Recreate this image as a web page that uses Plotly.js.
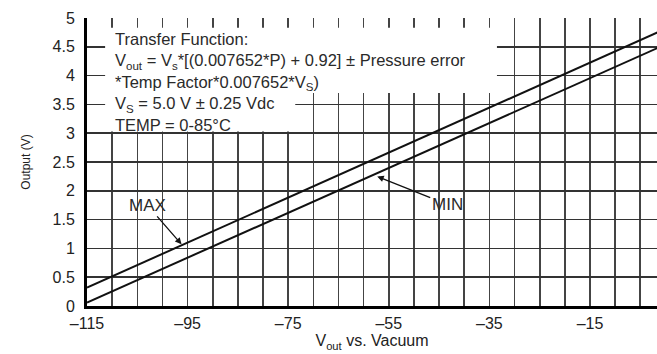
<!DOCTYPE html>
<html>
<head>
<meta charset="utf-8">
<script src="https://cdn.plot.ly/plotly-3.0.1.min.js"></script>
<style>
html,body{margin:0;padding:0;background:#fff;}
#chart{width:657px;height:354px;}
</style>
</head>
<body>
<div id="chart"></div>
<script>
// Data
const vacuum = [-115, 0];
const outMax = [0.32, 4.81];
const outMin = [0.06, 4.54];
const xTickVals = [-115, -95, -75, -55, -35, -15];
const xTickText = ['\u2013115', '\u201395', '\u201375', '\u201355', '\u201335', '\u201315'];
const seriesNames = ['MAX', 'MIN'];
const infoLines = [
  'Transfer Function:',
  'V<sub>out</sub> = V<sub>s</sub>*[(0.007652*P) + 0.92] \u00b1 Pressure error',
  '*Temp Factor*0.007652*V<sub>S</sub>)',
  'V<sub>S</sub> = 5.0 V \u00b1 0.25 Vdc',
  'TEMP = 0-85\u00b0C'
];

const FONT = 'Liberation Sans, Arial, sans-serif';
const lineStyle = {color: '#111', width: 2};

const traces = [
  {x: vacuum, y: outMax, name: seriesNames[0], mode: 'lines', line: lineStyle, hoverinfo: 'skip'},
  {x: vacuum, y: outMin, name: seriesNames[1], mode: 'lines', line: lineStyle, hoverinfo: 'skip'}
];

const layout = {
  width: 657, height: 354,
  margin: {l: 87, r: 0, t: 18, b: 48},
  paper_bgcolor: '#fff', plot_bgcolor: '#fff',
  showlegend: false,
  font: {family: FONT, color: '#222', size: 16},
  xaxis: {
    range: [-115, -1.68],
    tickvals: xTickVals, ticktext: xTickText,
    showgrid: true, gridcolor: '#444', gridwidth: 1.6,
    minor: {tick0: -115, dtick: 5, showgrid: true, gridcolor: '#444', gridwidth: 1.6},
    zeroline: false, ticks: '',
    showline: true, linecolor: '#000', linewidth: 3,
    tickfont: {size: 16, color: '#222'},
    ticklabelstandoff: 1,
    title: {text: 'V<sub>out</sub> vs. Vacuum', font: {size: 16, color: '#222'}, standoff: 4}
  },
  yaxis: {
    range: [0, 5],
    dtick: 0.5, tick0: 0,
    showgrid: true, gridcolor: '#333', gridwidth: 1.6,
    zeroline: false, ticks: '',
    showline: true, linecolor: '#000', linewidth: 3,
    tickfont: {size: 16, color: '#222'},
    ticklabelstandoff: 6,
    title: {text: 'Output (V)', font: {size: 12, color: '#222'}, standoff: 20}
  },
  shapes: [
    {type: 'rect', xref: 'x', yref: 'y', x0: -111.4, x1: -33.5, y0: 3.70, y1: 4.83,
     fillcolor: '#fff', line: {width: 0}, layer: 'between'},
    {type: 'rect', xref: 'x', yref: 'y', x0: -111.4, x1: -73.6, y0: 3.03, y1: 3.71,
     fillcolor: '#fff', line: {width: 0}, layer: 'between'}
  ],
  annotations: [
    {x: -109.6, y: 4.81, xref: 'x', yref: 'y', xanchor: 'left', yanchor: 'top',
     align: 'left', showarrow: false, borderpad: 0, text: infoLines.join('<br>'),
     font: {size: 16.5, color: '#2a2a2a', family: FONT}},
    {x: -96.2, y: 1.07, xref: 'x', yref: 'y', text: seriesNames[0], showarrow: true,
     ax: -34, ay: -39, arrowhead: 2, arrowsize: 1, arrowwidth: 1.3, arrowcolor: '#111',
     font: {size: 17, color: '#2a2a2a', family: FONT}},
    {x: -57.3, y: 2.25, xref: 'x', yref: 'y', text: seriesNames[1], showarrow: true,
     ax: 70, ay: 28, arrowhead: 2, arrowsize: 1, arrowwidth: 1.3, arrowcolor: '#111',
     font: {size: 17, color: '#2a2a2a', family: FONT}}
  ]
};

Plotly.newPlot('chart', traces, layout, {staticPlot: true, displayModeBar: false});
</script>
</body>
</html>
